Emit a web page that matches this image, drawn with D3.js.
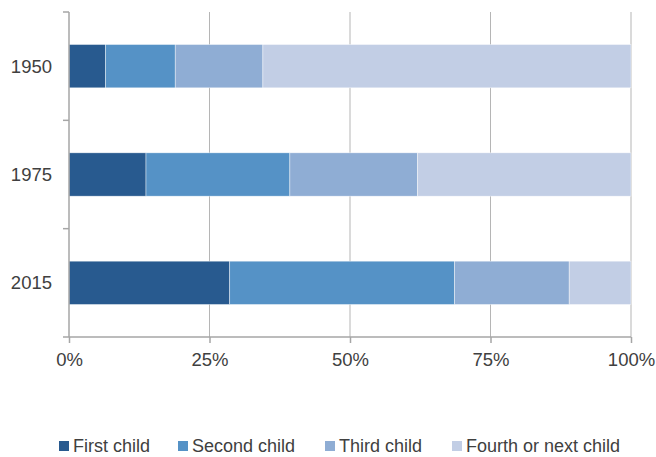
<!DOCTYPE html>
<html>
<head>
<meta charset="utf-8">
<script src="https://cdn.jsdelivr.net/npm/d3@7"></script>
<style>
  html, body { margin: 0; padding: 0; background: #fff; }
  svg { display: block; font-family: "Helvetica Neue", "Liberation Sans", Arial, sans-serif; }
</style>
</head>
<body>
<svg id="chart" width="656" height="457"></svg>
<script>
// Birth order shares (%) per year
const years = ["1950", "1975", "2015"];
const seriesNames = ["First child", "Second child", "Third child", "Fourth or next child"];
const firstChild  = [6.5, 13.7, 28.6];
const secondChild = [12.4, 25.6, 40.0];
const thirdChild  = [15.6, 22.7, 20.4];
const fourthChild = [65.5, 38.0, 11.0];
const xTicks = [0, 25, 50, 75, 100];
const colors = ["#285a8f", "#5592c6", "#8fadd4", "#c2cee5"];

const rows = years.map((y, i) => ({
  year: y,
  "First child": firstChild[i],
  "Second child": secondChild[i],
  "Third child": thirdChild[i],
  "Fourth or next child": fourthChild[i]
}));

const stacked = d3.stack().keys(seriesNames)(rows);

const svg = d3.select("#chart");
const plotLeft = 69, plotRight = 631, plotTop = 12, plotBottom = 337;

const x = d3.scaleLinear().domain([0, 100]).range([plotLeft, plotRight]);
const y = d3.scaleBand().domain(years).range([plotTop, plotBottom])
  .paddingInner(0.6).paddingOuter(0.3);

// vertical gridlines
svg.append("g")
  .selectAll("line")
  .data(xTicks.filter(t => t > 0))
  .join("line")
  .attr("x1", d => x(d)).attr("x2", d => x(d))
  .attr("y1", plotTop).attr("y2", plotBottom)
  .attr("stroke", "#b5b5b5").attr("stroke-width", 1);

// stacked bars
svg.append("g")
  .selectAll("g")
  .data(stacked)
  .join("g")
  .attr("fill", (d, i) => colors[i])
  .selectAll("rect")
  .data(d => d)
  .join("rect")
  .attr("x", d => x(d[0]))
  .attr("y", d => y(d.data.year))
  .attr("width", d => x(d[1]) - x(d[0]))
  .attr("height", y.bandwidth())
  .attr("stroke", "#ffffff")
  .attr("stroke-width", 0.6)
  .attr("stroke-opacity", 0.7);

// x axis
const xAxis = svg.append("g")
  .attr("transform", `translate(0,${plotBottom})`)
  .call(d3.axisBottom(x).tickValues(xTicks).tickFormat(d => d + "%").tickSize(6).tickPadding(10));
xAxis.attr("font-family", null).attr("font-size", null);
xAxis.select(".domain").attr("stroke", "#a6a6a6").attr("stroke-width", 1.5)
  .attr("d", `M${plotLeft - 6},0H${plotRight}`);
xAxis.selectAll(".tick line").attr("stroke", "#a6a6a6").attr("stroke-width", 1.5);
xAxis.selectAll(".tick text").attr("fill", "#404040").attr("font-size", "18.5px");

// y axis: ticks sit at band boundaries
const yAxis = svg.append("g")
  .attr("transform", `translate(${plotLeft},0)`);
yAxis.append("line")
  .attr("x1", 0).attr("x2", 0).attr("y1", plotTop).attr("y2", plotBottom)
  .attr("stroke", "#a6a6a6").attr("stroke-width", 1.5);
const boundaries = years.map(yr => y(yr) - y.step() * y.paddingOuter());
yAxis.selectAll("line.tk")
  .data(boundaries)
  .join("line")
  .attr("class", "tk")
  .attr("x1", -6).attr("x2", 0)
  .attr("y1", d => d).attr("y2", d => d)
  .attr("stroke", "#a6a6a6").attr("stroke-width", 1.5);
yAxis.selectAll("text")
  .data(years)
  .join("text")
  .attr("x", -17)
  .attr("y", d => y(d) + y.bandwidth() / 2)
  .attr("dy", "0.35em")
  .attr("text-anchor", "end")
  .attr("fill", "#404040")
  .attr("font-size", "18.5px")
  .text(d => d);

// legend
const legendX = [59, 178, 325, 452];
const legend = svg.append("g").attr("transform", "translate(0,452)");
const items = legend.selectAll("g")
  .data(seriesNames)
  .join("g")
  .attr("transform", (d, i) => `translate(${legendX[i]},0)`);
items.append("rect")
  .attr("x", 0).attr("y", -11)
  .attr("width", 10).attr("height", 10)
  .attr("fill", (d, i) => colors[i]);
items.append("text")
  .attr("x", 14).attr("y", 0)
  .attr("fill", "#404040")
  .attr("font-size", "18px")
  .text(d => d);
</script>
</body>
</html>
